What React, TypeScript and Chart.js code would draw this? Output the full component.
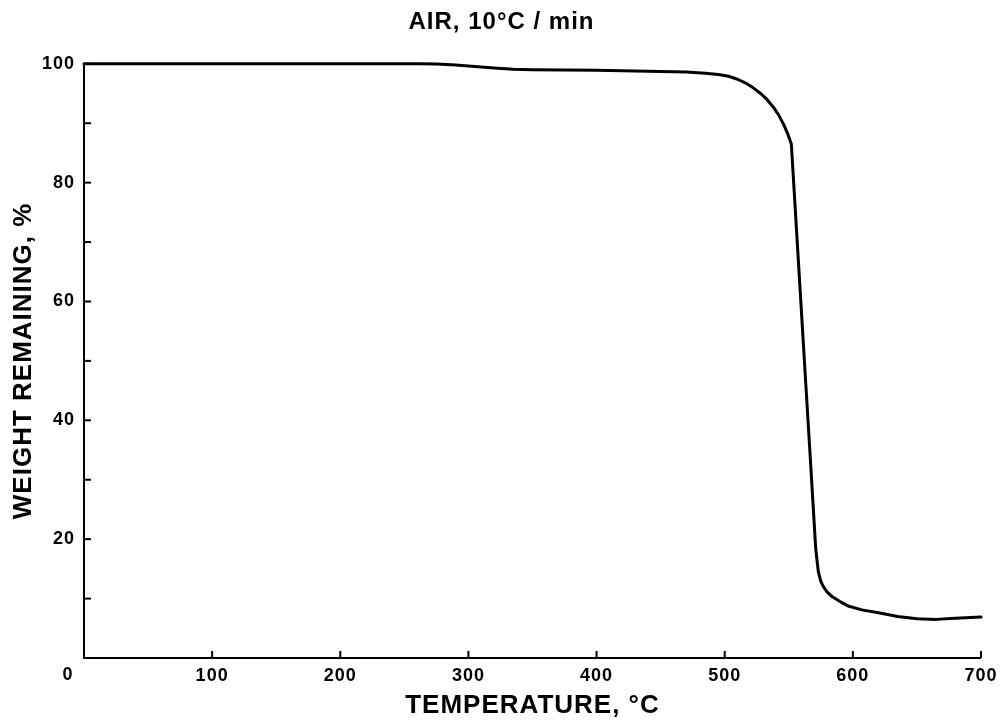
import React, { useEffect, useRef } from 'react';
import { Chart, registerables } from 'chart.js';

Chart.register(...registerables);

const chartTitle = 'AIR, 10°C / min';
const xAxisTitle = 'TEMPERATURE, °C';
const yAxisTitle = 'WEIGHT REMAINING, %';

const temperatures = [0, 100, 200, 260, 275, 290, 305, 320, 335, 350, 400, 450, 470, 485, 495, 503, 510, 516, 522, 528, 533, 538, 542, 546, 549, 552, 557, 562, 567, 571, 573, 575, 577, 580, 584, 590, 597, 607, 620, 635, 650, 665, 680, 700];
const weights = [100, 100, 100, 100, 99.95, 99.8, 99.55, 99.3, 99.1, 99.0, 98.9, 98.7, 98.6, 98.4, 98.2, 97.9, 97.4, 96.8, 96.0, 95.0, 94.0, 92.7, 91.4, 89.8, 88.3, 86.5, 68.6, 50.7, 32.9, 18.5, 14.6, 12.9, 12.0, 11.1, 10.3, 9.5, 8.7, 8.1, 7.6, 7.0, 6.6, 6.5, 6.7, 6.9];

const xMin = 0;
const xMax = 700;
const xStep = 100;
const yMin = 0;
const yMax = 100;
const yStep = 10;
const yLabelStep = 20;

const FONT = '"Liberation Sans", Arial, Helvetica, sans-serif';

const spacingPlugin = {
  id: 'letterSpacing',
  beforeDraw(chart: any) {
    (chart.ctx as any).letterSpacing = '1px';
  },
  afterDraw(chart: any) {
    (chart.ctx as any).letterSpacing = '0px';
  },
};

const inwardTicks = {
  id: 'inwardTicks',
  afterDatasetsDraw(chart: any) {
    const { ctx, chartArea, scales } = chart;
    const x = scales.x;
    const y = scales.y;
    ctx.save();
    ctx.strokeStyle = '#000';
    ctx.lineWidth = 2;
    for (const t of x.ticks) {
      if (t.value === xMin) continue;
      const px = x.getPixelForValue(t.value);
      ctx.beginPath();
      ctx.moveTo(px, chartArea.bottom);
      ctx.lineTo(px, chartArea.bottom - 7);
      ctx.stroke();
    }
    for (const t of y.ticks) {
      if (t.value === yMin) continue;
      const py = y.getPixelForValue(t.value);
      ctx.beginPath();
      ctx.moveTo(chartArea.left, py);
      ctx.lineTo(chartArea.left + 7, py);
      ctx.stroke();
    }
    // shared origin label
    ctx.fillStyle = '#000';
    ctx.font = `bold 18px ${FONT}`;
    ctx.textAlign = 'center';
    ctx.textBaseline = 'middle';
    ctx.fillText(String(xMin), x.getPixelForValue(xMin) - 16, chartArea.bottom + 17);
    ctx.restore();
  },
};

export default function App() {
  const ref = useRef<HTMLCanvasElement | null>(null);

  useEffect(() => {
    if (!ref.current) return;
    Chart.defaults.font.family = FONT;
    Chart.defaults.color = '#000';
    const chart = new Chart(ref.current, {
      type: 'line',
      data: {
        datasets: [
          {
            data: temperatures.map((t, i) => ({ x: t, y: weights[i] })),
            borderColor: '#000',
            borderWidth: 3,
            borderJoinStyle: 'round',
            borderCapStyle: 'round',
            pointRadius: 0,
            fill: false,
            tension: 0,
            clip: false as any,
          },
        ],
      },
      options: {
        responsive: false,
        animation: false,
        layout: { padding: 0 },
        plugins: {
          legend: { display: false },
          tooltip: { enabled: false },
          title: {
            display: true,
            text: chartTitle,
            color: '#000',
            font: { size: 24, weight: 'bold', family: FONT },
            padding: { top: 8, bottom: 27 },
          },
        },
        scales: {
          x: {
            type: 'linear',
            min: xMin,
            max: xMax,
            afterFit(scale: any) {
              scale.height = 66;
            },
            grid: { display: false, drawTicks: false },
            border: { display: true, color: '#000', width: 2 },
            ticks: {
              stepSize: xStep,
              padding: 7,
              color: '#000',
              font: { size: 18, weight: 'bold', family: FONT },
              callback: (v: any) => (v === xMin ? '' : String(v)),
            },
            title: {
              display: true,
              text: xAxisTitle,
              color: '#000',
              font: { size: 26, weight: 'bold', family: FONT },
              padding: { top: 0, bottom: 3 },
            },
          },
          y: {
            type: 'linear',
            min: yMin,
            max: yMax,
            afterFit(scale: any) {
              scale.width = 84;
            },
            grid: { display: false, drawTicks: false },
            border: { display: true, color: '#000', width: 2 },
            ticks: {
              stepSize: yStep,
              padding: 9,
              color: '#000',
              font: { size: 18, weight: 'bold', family: FONT },
              callback: (v: any) => (v === yMin || v % yLabelStep !== 0 ? '' : String(v)),
            },
            title: {
              display: true,
              text: yAxisTitle,
              color: '#000',
              font: { size: 26, weight: 'bold', family: FONT },
              padding: { top: 8, bottom: 0 },
            },
          },
        },
      },
      plugins: [spacingPlugin, inwardTicks],
    } as any);
    return () => chart.destroy();
  }, []);

  return (
    <div style={{ position: 'absolute', left: 0, top: 0, width: 1003, height: 724, background: '#fff' }}>
      <canvas ref={ref} width={1003} height={724} />
    </div>
  );
}
